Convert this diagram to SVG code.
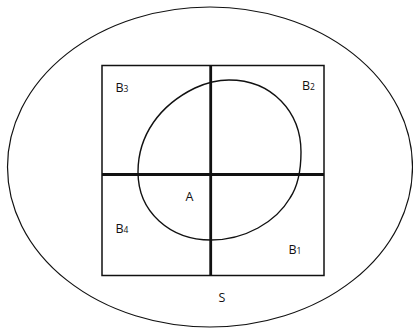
<svg xmlns="http://www.w3.org/2000/svg" width="413" height="328" viewBox="0 0 413 328">
<style>
.s{fill:none;stroke:#111;}
.t{font-family:"Open Sans","Noto Sans",sans-serif;font-size:12.5px;fill:#111;}
.sub{font-size:8.5px;}
</style>
<rect width="413" height="328" fill="#fff"/>
<g id="S">
<ellipse class="s" cx="210" cy="167" rx="202.5" ry="160" stroke-width="1.2"/>
<text class="t" x="218.5" y="302">S</text>
</g>
<g id="grid">
<rect class="s" x="102" y="65.5" width="222" height="210" stroke-width="1.5"/>
</g>
<g id="connectors">
<line class="s" x1="210.7" y1="65" x2="210.7" y2="276" stroke-width="2.8"/>
<line class="s" x1="102" y1="174.5" x2="324" y2="174.5" stroke-width="2.8"/>
</g>
<g id="A">
<path class="s" stroke-width="1.4" d="M229,80 C272,80 301,112 301,152 C301,170 298,186 290,198 C276,222 245,240 211,240 C170,240 138,212 138,172 C138,135 160,105 195,88 C208,82 218,80 229,80 Z"/>
<text class="t" x="185.5" y="200.5">A</text>
</g>
<g id="B1"><text class="t" x="288.5" y="254">B<tspan class="sub">1</tspan></text></g>
<g id="B2"><text class="t" x="302" y="90">B<tspan class="sub">2</tspan></text></g>
<g id="B3"><text class="t" x="115.5" y="92.3">B<tspan class="sub">3</tspan></text></g>
<g id="B4"><text class="t" x="115.5" y="233">B<tspan class="sub">4</tspan></text></g>
</svg>
